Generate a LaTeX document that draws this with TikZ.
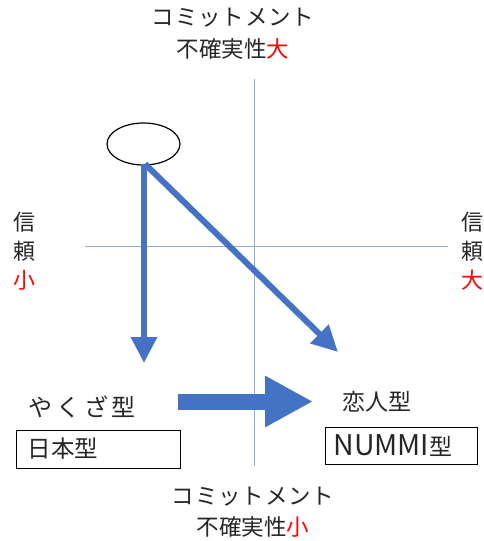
\documentclass[tikz,border=0pt]{standalone}
\usepackage{fontspec}
\newfontfamily\jp{Noto Sans CJK JP}
\usetikzlibrary{arrows.meta,shapes.geometric}
\definecolor{arrowblue}{HTML}{4472C4}
\definecolor{axisblue}{HTML}{8FAADC}
\definecolor{txt}{HTML}{262626}
\newcommand\ks{\hspace{0.8pt}}
\tikzset{
  lbl/.style={inner sep=0pt, text=txt, align=center},
  boxed/.style={draw=black, line width=1pt, inner sep=0pt, text=txt, anchor=west},
  axis/.style={draw=axisblue, line width=1.3pt},
  thinarrow/.style={draw=arrowblue, line width=6pt, -{Triangle[length=26pt,width=25pt]}},
  bigarrow/.style={draw=arrowblue, line width=16pt, -{Triangle[length=48pt,width=48pt]}},
}
\begin{document}
\begin{tikzpicture}[x=1pt,y=-1pt]
\useasboundingbox (0,0) rectangle (483,541);
% axes
\coordinate (vt) at (254.5,79);
\coordinate (vb) at (254.5,466);
\coordinate (hl) at (85,246.5);
\coordinate (hr) at (448,246.5);
\draw[axis] (vt) -- (vb);
\draw[axis] (hl) -- (hr);
% top / bottom labels
\node[lbl, font=\jp\fontsize{22.5}{32}\selectfont] (top) at (233,34) {コ\ks ミ\ks ッ\ks ト\ks メ\ks ン\ks ト\\不確実性\textcolor{red}{大}};
\node[lbl, font=\jp\fontsize{22.5}{31}\selectfont] (bot) at (253,512.5) {コ\ks ミ\ks ッ\ks ト\ks メ\ks ン\ks ト\\不確実性\textcolor{red}{小}};
% side labels
\node[lbl, font=\jp\fontsize{22}{29}\selectfont] (left) at (24,251) {信\\頼\\\textcolor{red}{小}};
\node[lbl, font=\jp\fontsize{22}{29}\selectfont] (right) at (472,251) {信\\頼\\\textcolor{red}{大}};
% ellipse
\node[draw=black, line width=1.2pt, ellipse, minimum width=73pt, minimum height=42pt, inner sep=0pt] (e) at (143.5,144) {};
% targets
\coordinate (a1s) at (144,164);
\coordinate (a1e) at (144,363);
\coordinate (a2s) at (145,164);
\coordinate (a2e) at (338,352);
\draw[thinarrow] (a2s) -- (a2e);
\draw[thinarrow] (a1s) -- (a1e);
% left group
\node[lbl, font=\jp\fontsize{24}{28}\selectfont, anchor=west] (yakuza) at (28,407) {や\hspace{4pt}く\hspace{4pt}ざ\hspace{3pt}型};
\node[boxed, minimum width=164pt, minimum height=38pt, font=\jp\fontsize{23.5}{28}\selectfont, text width=164pt, align=left] (nihon) at (16,449) {\hspace*{11pt}日本型};
% right group
\node[lbl, font=\jp\fontsize{23}{28}\selectfont, anchor=west] (koibito) at (342,402) {恋人型};
\node[boxed, minimum width=152pt, minimum height=37pt, font=\jp\fontsize{23}{28}\selectfont, text width=152pt, align=left] (nummi) at (325,446) {\hspace*{8pt}{\fontsize{28.5}{28}\selectfont NUMMI}型};
% big arrow
\coordinate (bs) at (178,401.5);
\coordinate (be) at (313,401.5);
\draw[bigarrow] (bs) -- (be);
\end{tikzpicture}
\end{document}
